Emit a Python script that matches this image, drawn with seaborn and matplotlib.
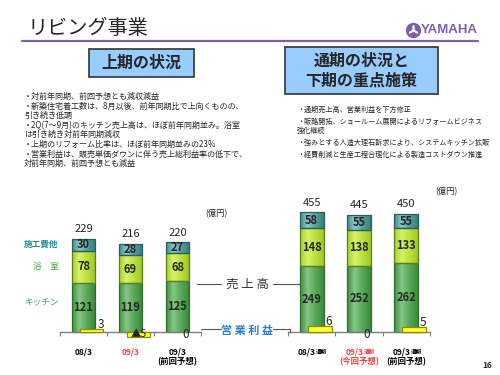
import numpy as np
import matplotlib
matplotlib.use("Agg")
import matplotlib.pyplot as plt
import matplotlib.transforms as mtransforms
from matplotlib.colors import LinearSegmentedColormap
from matplotlib.patches import Rectangle
from matplotlib.lines import Line2D
import seaborn as sns

# 上期 (first half), 億円
half_labels = ["08/3", "09/3", "09/3"]
half_sub = ["", "", "(前回予想)"]
half_kitchen = [121, 119, 125]
half_bath = [78, 69, 68]
half_other = [30, 28, 27]
half_total = [229, 216, 220]
half_profit = [3, -5, 0]
half_profit_text = ["3", "▲5", "0"]

# 通期 (full year), 億円
year_labels = ["08/3", "09/3", "09/3"]
year_suffix = "通期"
year_sub = ["", "(今回予想)", "(前回予想)"]
year_kitchen = [249, 252, 262]
year_bath = [148, 138, 133]
year_other = [58, 55, 55]
year_total = [455, 445, 450]
year_profit = [6, 0, 5]
year_profit_text = ["6", "0", "5"]

label_colors = ["black", "#FF3B3B", "black"]

left_bullets = [
    ["・対前年同期、前回予想とも減収減益"],
    ["・新築住宅着工数は、8月以後、前年同期比で上向くものの、", "引き続き低調"],
    ["・2Q(7～9月)のキッチン売上高は、ほぼ前年同期並み。浴室", "は引き続き対前年同期減収"],
    ["・上期のリフォーム比率は、ほぼ前年同期並みの23%"],
    ["・営業利益は、販売単価ダウンに伴う売上総利益率の低下で、", "対前年同期、前回予想とも減益"],
]
right_bullets = [
    ["・通期売上高、営業利益を下方修正"],
    ["・販路開拓、ショールーム展開によるリフォームビジネス", "強化継続"],
    ["・強みとする人造大理石訴求により、システムキッチン拡販"],
    ["・経費削減と生産工程合理化による製造コストダウン推進"],
]

W, H = 500, 375
sns.set_theme(style="white")
plt.rcParams["font.family"] = ["Noto Sans CJK JP", "DejaVu Sans"]

fig = plt.figure(figsize=(W / 100, H / 100), dpi=100)
fig.patch.set_facecolor("white")


def fx(px):
    return px / W


def fy(py):
    return 1 - py / H


purple = "#7E5FA8"

# header
fig.text(fx(28), fy(28), "リビング事業", fontsize=14.5, ha="left", va="center")
fig.add_artist(Line2D([fx(22), fx(478)], [fy(41), fy(41)], color=purple, lw=1.6))
fig.add_artist(Line2D([fx(413)], [fy(30)], marker="o", markersize=10, color=purple,
                      transform=fig.transFigure))
fig.add_artist(Line2D([fx(413)], [fy(30)], marker=(3, 2, 0), markersize=7, color="white",
                      mew=1.2, transform=fig.transFigure))
fig.text(fx(421), fy(30), "YAMAHA", fontsize=9.5, fontweight="bold", color=purple,
         family="Liberation Sans", ha="left", va="center")

# title boxes
for (x0, y0, x1, y1) in [(89, 49, 194, 77), (285, 47, 438, 94)]:
    fig.add_artist(Rectangle((fx(x0), fy(y1)), fx(x1) - fx(x0), fy(y0) - fy(y1),
                             transform=fig.transFigure, facecolor="#99CCFF",
                             edgecolor="#333333", lw=1.2))
fig.text(fx(141.5), fy(63), "上期の状況", fontsize=11.5, fontweight="bold", ha="center", va="center")
fig.text(fx(361.5), fy(61), "通期の状況と", fontsize=11.5, fontweight="bold", ha="center", va="center")
fig.text(fx(361.5), fy(81), "下期の重点施策", fontsize=11.5, fontweight="bold", ha="center", va="center")

# bullet text
y = 96
for lines in left_bullets:
    for i, line in enumerate(lines):
        if i > 0:
            y += 8.8
        fig.text(fx(24), fy(y), line, fontsize=5.8, ha="left", va="center")
    y += 10.3
y = 110
for lines in right_bullets:
    for i, line in enumerate(lines):
        if i > 0:
            y += 9
        fig.text(fx(297), fy(y), line, fontsize=5.1, ha="left", va="center")
    y += 11.8

fig.text(fx(216), fy(214), "(億円)", fontsize=6, ha="center", va="center")
fig.text(fx(446), fy(192), "(億円)", fontsize=6, ha="center", va="center")
fig.text(fx(487), fy(366), "16", fontsize=6, fontweight="bold", ha="center", va="center")

cm_kitchen = LinearSegmentedColormap.from_list(
    "k", [(0, "#3F8F3F"), (0.3, "#86C786"), (0.6, "#5BAA5B"), (1, "#3A863A")])
cm_bath = LinearSegmentedColormap.from_list(
    "b", [(0, "#A6CF2C"), (0.3, "#D6F26A"), (0.6, "#BFE33E"), (1, "#9CC428")])
cm_other = LinearSegmentedColormap.from_list(
    "o", [(0, "#3E8A8A"), (0.3, "#8FC9C9"), (0.6, "#5AA3A3"), (1, "#347A7A")])


def shade(ax, patch, cmap):
    x0, y0 = patch.get_x(), patch.get_y()
    w, h = patch.get_width(), patch.get_height()
    grad = np.linspace(0, 1, 64).reshape(1, -1)
    im = ax.imshow(grad, cmap=cmap, aspect="auto", interpolation="bicubic",
                   extent=(x0, x0 + w, y0, y0 + h), zorder=2)
    patch.set_facecolor("none")
    patch.set_zorder(2.2)
    im.set_clip_path(patch)


TOP, BOT, BASE = 190, 345, 331.7


def draw_block(left_px, right_px, kitchen, bath, other, total, profit, ptext,
               main, sub, scale, suffix="", legend=False):
    ax = fig.add_axes([fx(left_px), fy(BOT), fx(right_px) - fx(left_px), (BOT - TOP) / H])
    pos = np.arange(len(total))
    bottom = np.zeros(len(pos))
    segs = [(kitchen, cm_kitchen, "#5CAF5C", "#2D6E2D"),
            (bath, cm_bath, "#C3E83C", "#5F7F1A"),
            (other, cm_other, "#4F9E9E", "#275F5F")]
    for vals, cmap, face, edge in segs:
        n0 = len(ax.patches)
        sns.barplot(x=pos, y=vals, bottom=bottom, native_scale=True, width=0.51,
                    color=face, edgecolor=edge, linewidth=0.9, saturation=1,
                    errorbar=None, ax=ax)
        for p in ax.patches[n0:]:
            shade(ax, p, cmap)
        for x, b, v in zip(pos, bottom, vals):
            ax.text(x, b + v / 2, str(v), ha="center", va="center", fontsize=8,
                    fontweight="bold", zorder=5)
        bottom = bottom + np.array(vals)

    for x, t in zip(pos, total):
        ax.annotate(str(t), (x, t), xytext=(0, 3.5), textcoords="offset points",
                    ha="center", va="bottom", fontsize=8)

    ax.set_ylim(-(BOT - BASE) / scale, (BASE - TOP) / scale)
    ax.set_xlim(-0.5, len(pos) - 0.5)
    for s in ["top", "left", "right"]:
        ax.spines[s].set_visible(False)
    ax.spines["bottom"].set_position(("data", 0))
    ax.spines["bottom"].set_color("#808080")
    ax.spines["bottom"].set_linewidth(1)
    ax.set_yticks([])
    ax.set_xticks(np.arange(len(pos) + 1) - 0.5)
    ax.set_xticklabels([])
    ax.tick_params(axis="x", direction="out", length=3, width=0.8, color="#808080", bottom=True)
    ax.set_xlabel("")
    ax.set_ylabel("")
    ax.patch.set_alpha(0)

    trans = ax.get_xaxis_transform()

    def ya(py):
        return (BOT - py) / (BOT - TOP)

    for x, m, s, c in zip(pos, main, sub, label_colors):
        if suffix:
            ax.annotate(m, (x, ya(352)), xycoords=trans, xytext=(3, 0),
                        textcoords="offset points", ha="right", va="center",
                        fontsize=6, fontweight="bold", color=c)
            ax.annotate(suffix, (x, ya(352.5)), xycoords=trans, xytext=(3.3, 0),
                        textcoords="offset points", ha="left", va="center",
                        fontsize=4, fontweight="bold", color=c)
        else:
            ax.text(x, ya(352), m, transform=trans, ha="center", va="center",
                    fontsize=6, fontweight="bold", color=c)
        if s:
            ax.text(x, ya(362), s, transform=trans, ha="center", va="center",
                    fontsize=6, fontweight="bold", color=c)

    if legend:
        bt = mtransforms.blended_transform_factory(ax.transAxes, ax.transData)
        ax.text(-0.01, kitchen[0] + bath[0] + other[0] / 2, "施工費他", transform=bt,
                ha="right", va="center", fontsize=6.2, fontweight="bold", color="#1B8F8F")
        ax.text(-0.01, kitchen[0] + bath[0] / 2, "浴　室", transform=bt,
                ha="right", va="center", fontsize=6.2, color="#3E9E3E")
        ax.text(-0.01, kitchen[0] / 2 + 10, "キッチン", transform=bt,
                ha="right", va="center", fontsize=6.2, color="#2E9E6E")

    ax2 = ax.twinx()
    ppos = pos + 0.17
    n0 = len(ax2.patches)
    sns.barplot(x=ppos, y=profit, native_scale=True, width=0.51, color="#FFFF33",
                edgecolor="#8C8C00", linewidth=0.9, saturation=1, errorbar=None, ax=ax2)
    for p in ax2.patches[n0:]:
        if p.get_height() == 0:
            p.set_visible(False)
    ax2.set_ylim(-(BOT - BASE), BASE - TOP)
    ax2.set_xlim(-0.5, len(pos) - 0.5)
    ax2.set_axis_off()
    for x, v, t in zip(ppos, profit, ptext):
        if v > 0:
            ax2.annotate(t, (x, v), xytext=(6.5, -1.5), textcoords="offset points",
                         ha="center", va="bottom", fontsize=8.5)
        elif v < 0:
            ax2.text(x, v / 2, t, ha="center", va="center", fontsize=7.5)
        else:
            ax2.annotate(t, (x, 0), xytext=(0, -2), textcoords="offset points",
                         ha="center", va="center", fontsize=8.5)
    return ax


draw_block(60, 201, half_kitchen, half_bath, half_other, half_total, half_profit,
           half_profit_text, half_labels, half_sub, 0.406, legend=True)
draw_block(288, 430, year_kitchen, year_bath, year_other, year_total, year_profit,
           year_profit_text, year_labels, year_sub, 0.262, suffix=year_suffix)

# centre captions with leader lines
fig.text(fx(247), fy(284), "売 上 高", fontsize=9, color="#333333", ha="center", va="center")
fig.text(fx(247), fy(330), "営 業 利 益", fontsize=8, fontweight="bold", color="#2F7FCF",
         ha="center", va="center")
for xs, ys in [([197, 221], [284, 284]), ([273, 300], [284, 284]),
               ([201, 221], [329, 329]), ([273, 290, 290], [329, 329, 331.7])]:
    fig.add_artist(Line2D([fx(v) for v in xs], [fy(v) for v in ys], color="#555555", lw=0.8))

fig.savefig("out.png", dpi=100)
